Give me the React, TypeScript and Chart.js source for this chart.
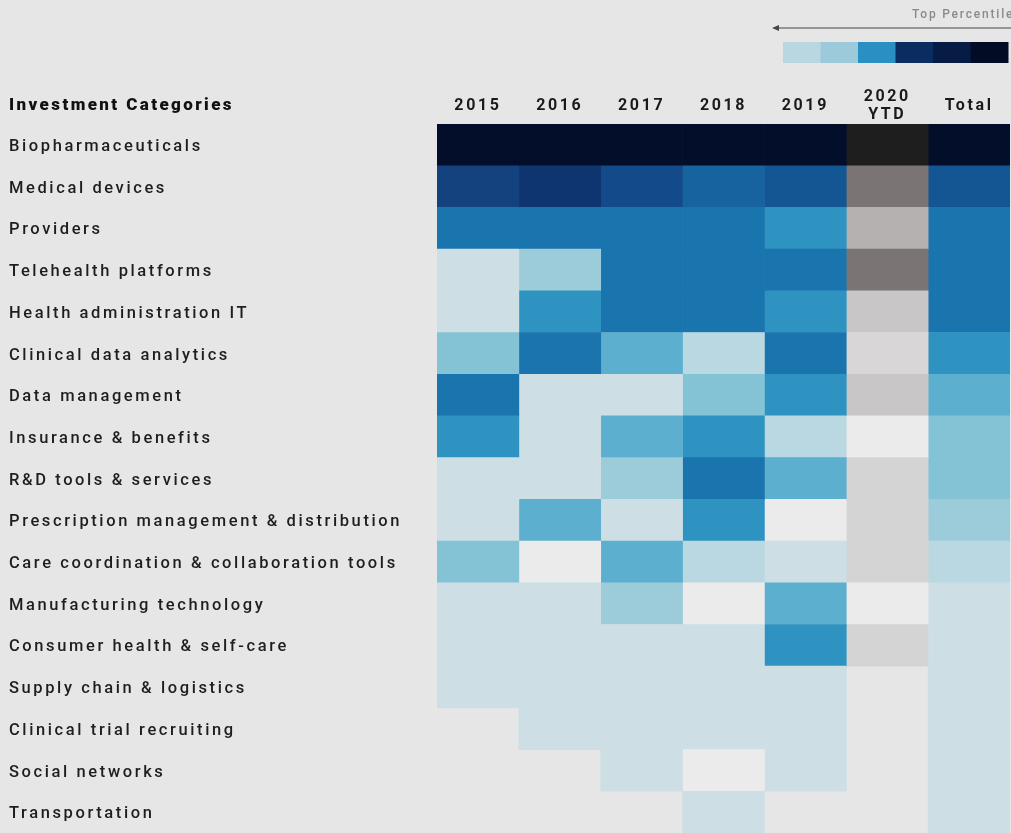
import React, { useEffect, useRef } from "react";
import { Chart, registerables } from "chart.js";

Chart.register(...registerables);

const categories = [
  "Biopharmaceuticals",
  "Medical devices",
  "Providers",
  "Telehealth platforms",
  "Health administration IT",
  "Clinical data analytics",
  "Data management",
  "Insurance & benefits",
  "R&D tools & services",
  "Prescription management & distribution",
  "Care coordination & collaboration tools",
  "Manufacturing technology",
  "Consumer health & self-care",
  "Supply chain & logistics",
  "Clinical trial recruiting",
  "Social networks",
  "Transportation",
];

const columnLabels: (string | string[])[] = ["2015", "2016", "2017", "2018", "2019", ["2020", "YTD"], "Total"];

// intensity level per category (0 = faint, 13 = top percentile, null = no data)
const v2015 = [13, 11, 7, 1, 1, 4, 7, 6, 1, 1, 4, 1, 1, 1, null, null, null];
const v2016 = [13, 12, 7, 3, 6, 7, 1, 1, 1, 5, 0, 1, 1, 1, 1, null, null];
const v2017 = [13, 10, 7, 7, 7, 5, 1, 5, 3, 1, 5, 3, 1, 1, 1, 1, null];
const v2018 = [13, 8, 7, 7, 7, 2, 4, 6, 7, 6, 2, 0, 1, 1, 1, 0, 1];
const v2019 = [13, 9, 6, 7, 6, 7, 6, 2, 5, 0, 1, 5, 6, 1, 1, 1, null];
const v2020YTD = [13, 11, 8, 11, 6, 3, 6, 0, 4, 4, 4, 0, 4, null, null, null, null];
const vTotal = [13, 9, 7, 7, 7, 6, 5, 4, 4, 3, 2, 1, 1, 1, 1, 1, 1];

const columnValues = [v2015, v2016, v2017, v2018, v2019, v2020YTD, vTotal];
const grayColumn = 5;

const bluePalette = [
  "#ebebeb", "#cddfe5", "#bad8e1", "#9ccbd9", "#84c2d5", "#5cafce", "#2f93c1",
  "#1a74ae", "#1663a0", "#145593", "#134b8a", "#13427f", "#0e3570", "#020e2a",
];
const grayPalette = [
  "#ebebeb", "#e0e0e0", "#dcdcdc", "#d8d6d6", "#d4d4d4", "#cecdcd", "#c8c6c6",
  "#bdbbbb", "#b4b1b0", "#9e9a9a", "#8a8585", "#7a7474", "#4a4646", "#1f1e1e",
];

const legendTitle = "Top Percentile";
const legendColors = ["#b9d7e0", "#9dcadb", "#2a8fc2", "#0b2c5e", "#061c44", "#020c24"];
const axisTitle = "Investment Categories";

const FONT = "Roboto, 'Noto Sans', sans-serif";
const SPACING = "2.6px";

const spacingPlugin = {
  id: "spacing",
  beforeLayout(chart: any) {
    (chart.ctx as any).letterSpacing = SPACING;
  },
  beforeDraw(chart: any) {
    (chart.ctx as any).letterSpacing = SPACING;
  },
  afterDraw(chart: any) {
    const ctx = chart.ctx as CanvasRenderingContext2D;
    ctx.save();
    (ctx as any).letterSpacing = "2.4px";
    ctx.font = `900 17px ${FONT}`;
    ctx.fillStyle = "#111111";
    ctx.textBaseline = "middle";
    ctx.textAlign = "left";
    ctx.fillText(axisTitle, 9, 105.5);

    // legend
    (ctx as any).letterSpacing = "1.8px";
    ctx.font = `500 12px ${FONT}`;
    ctx.fillStyle = "#8a8a8a";
    ctx.fillText(legendTitle, 912, 15);
    ctx.strokeStyle = "#444444";
    ctx.lineWidth = 1.2;
    ctx.beginPath();
    ctx.moveTo(776, 28);
    ctx.lineTo(1011, 28);
    ctx.stroke();
    ctx.fillStyle = "#444444";
    ctx.beginPath();
    ctx.moveTo(772, 28);
    ctx.lineTo(779, 25);
    ctx.lineTo(779, 31);
    ctx.closePath();
    ctx.fill();
    const x0 = 783;
    const w = 37.5;
    legendColors.forEach((c, i) => {
      ctx.fillStyle = c;
      ctx.fillRect(x0 + i * w, 42, w + 0.5, 21);
    });
    ctx.restore();
  },
};

export default function App() {
  const ref = useRef<HTMLCanvasElement>(null);

  useEffect(() => {
    if (!ref.current) return;
    const datasets = columnValues.map((vals, c) => ({
      label: typeof columnLabels[c] === "string" ? (columnLabels[c] as string) : (columnLabels[c] as string[]).join(" "),
      data: vals.map((v) => (v == null ? null : [c, c + 1])),
      backgroundColor: vals.map((v) =>
        v == null ? "rgba(0,0,0,0)" : (c === grayColumn ? grayPalette : bluePalette)[v]
      ),
      borderWidth: 0,
      grouped: false,
      barPercentage: 1,
      categoryPercentage: 1,
    }));

    const chart = new Chart(ref.current, {
      type: "bar",
      data: { labels: categories, datasets: datasets as any },
      options: {
        animation: false,
        responsive: false,
        indexAxis: "y",
        layout: { padding: { left: 9, right: 1, top: 0, bottom: 0 } },
        plugins: { legend: { display: false }, tooltip: { enabled: false } },
        scales: {
          x: { type: "linear", min: 0, max: 7, display: false },
          xTop: {
            type: "category",
            position: "top",
            labels: columnLabels as any,
            offset: true,
            grid: { display: false, drawTicks: false },
            border: { display: false },
            ticks: {
              autoSkip: false,
              maxRotation: 0,
              crossAlign: "center",
              padding: 9,
              color: "#1a1a1a",
              font: { family: FONT, size: 16, weight: "bold", lineHeight: 1.15 },
            },
            afterFit: (s: any) => {
              s.height = 124;
              s.paddingLeft = 0;
              s.paddingRight = 0;
            },
          } as any,
          y: {
            type: "category",
            position: "left",
            offset: true,
            grid: { display: false, drawTicks: false },
            border: { display: false },
            ticks: {
              autoSkip: false,
              crossAlign: "far",
              padding: 0,
              labelOffset: 2,
              color: "#1e1e1e",
              font: { family: FONT, size: 16.5, weight: 500 },
            },
            afterFit: (s: any) => {
              s.width = 428;
              s.paddingTop = 0;
              s.paddingBottom = 0;
            },
          } as any,
        },
      },
      plugins: [spacingPlugin],
    });
    return () => chart.destroy();
  }, []);

  return (
    <div style={{ position: "fixed", left: 0, top: 0, width: 1011, height: 833, background: "#e6e6e6" }}>
      <canvas ref={ref} width={1011} height={833} style={{ display: "block", width: 1011, height: 833 }} />
    </div>
  );
}
